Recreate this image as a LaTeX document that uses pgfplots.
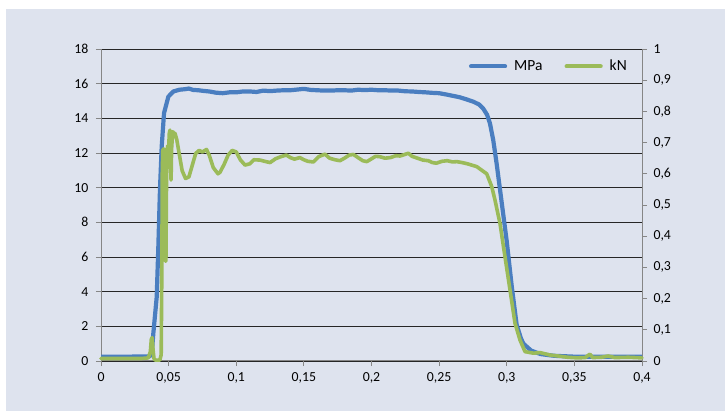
\documentclass[border=0pt]{standalone}
\usepackage{fontspec}
\setmainfont{Carlito}
\usepackage{pgfplots}
\pgfplotsset{compat=1.18}

\definecolor{bgc}{HTML}{DEE3EE}
\definecolor{mpablue}{HTML}{4A7EC0}
\definecolor{kngreen}{HTML}{9BBB59}
\definecolor{axgray}{HTML}{868686}

\newcommand{\xlfont}{\fontsize{13.8bp}{16bp}\selectfont}
\newcommand{\lgfont}{\fontsize{15.5bp}{18bp}\selectfont}

\begin{document}
\begin{tikzpicture}
  \fill[white] (0,0) rectangle (725bp,411bp);
  \fill[bgc] (6bp,0) rectangle (725bp,402bp);

  \pgfplotsset{
    common/.style={
      scale only axis, width=541bp, height=312bp,
      at={(101bp,50bp)}, anchor=south west,
      xmin=0, xmax=0.4, clip=false,
      tick align=outside, major tick length=5bp,
      tick style={axgray, line width=0.8bp},
      axis line style={axgray, line width=1bp},
      tick label style={font=\xlfont},
      /pgf/number format/.cd, use comma, 1000 sep={}, assume math mode=true,
    },
  }

  % left axis: MPa
  \begin{axis}[common,
    axis x line*=bottom, axis y line*=left,
    ymin=0, ymax=18, ytick={0,2,...,18},
    xtick={0,0.05,0.1,0.15,0.2,0.25,0.3,0.35,0.4},
    xticklabels={0,{0,05},{0,1},{0,15},{0,2},{0,25},{0,3},{0,35},{0,4}},
    ymajorgrids, grid style={black!85, line width=0.8bp},
    xticklabel style={yshift=-3bp}, yticklabel style={xshift=-4bp},
  ]
    \addplot[mpablue, line width=4.2bp, line join=round] coordinates {
      (0,0.25) (0.02,0.25) (0.036,0.27) (0.0375,0.4) (0.0387,1.6)
      (0.0412,3.7) (0.0424,6.6) (0.0436,9.9) (0.0449,12.4) (0.0466,14.3)
      (0.0498,15.25) (0.0535,15.55) (0.058,15.65) (0.062,15.68) (0.065,15.72)
      (0.068,15.64) (0.072,15.62) (0.076,15.58) (0.08,15.55) (0.085,15.48)
      (0.09,15.45) (0.095,15.5) (0.1,15.5) (0.105,15.55) (0.11,15.55)
      (0.115,15.52) (0.12,15.6) (0.125,15.57) (0.13,15.6) (0.135,15.62)
      (0.14,15.62) (0.145,15.66) (0.15,15.7) (0.155,15.64) (0.16,15.62)
      (0.165,15.6) (0.17,15.6) (0.175,15.62) (0.18,15.62) (0.185,15.6)
      (0.19,15.65) (0.195,15.63) (0.2,15.65) (0.205,15.62) (0.21,15.62)
      (0.215,15.6) (0.22,15.6) (0.225,15.56) (0.23,15.55) (0.235,15.52)
      (0.24,15.5) (0.245,15.47) (0.25,15.45) (0.255,15.38) (0.26,15.3)
      (0.265,15.22) (0.27,15.1) (0.2753,14.96) (0.2795,14.8) (0.2827,14.55)
      (0.2855,14.2) (0.2876,13.7) (0.29,12.75) (0.2925,11.4) (0.295,9.9)
      (0.2975,8.4) (0.30,6.9) (0.3037,4.3) (0.3073,2.1) (0.3105,1.3)
      (0.3123,1.0) (0.318,0.6) (0.325,0.4) (0.335,0.3) (0.35,0.25)
      (0.37,0.25) (0.4,0.25)
    };
  \end{axis}

  % right axis: kN
  \begin{axis}[common,
    axis x line=none, axis y line*=right,
    ymin=0, ymax=1,
    ytick={0,0.1,0.2,0.3,0.4,0.5,0.6,0.7,0.8,0.9,1},
    yticklabels={0,{0,1},{0,2},{0,3},{0,4},{0,5},{0,6},{0,7},{0,8},{0,9},1},
    yticklabel style={xshift=3bp},
    legend style={at={(1,1)}, anchor=north east, xshift=-13bp, yshift=-9bp,
      draw=none, fill=none, inner sep=0bp, font=\lgfont,
      nodes={inner sep=2bp},
      legend columns=2,
      /tikz/every odd column/.append style={column sep=5bp},
      /tikz/every even column/.append style={column sep=20bp}},
    legend image code/.code={\draw[#1] (0bp,0bp) -- (34bp,0bp);},
    legend cell align=left,
  ]
    \addlegendimage{mpablue, line width=4.2bp, line cap=round}
    \addlegendentry{MPa}
    \addlegendimage{kngreen, line width=4.2bp, line cap=round}
    \addlegendentry{kN}
    \addplot[kngreen, line width=3.6bp, line join=round, line cap=round, forget plot] coordinates {
      (0,0.008) (0.03,0.008) (0.035,0.01) (0.0365,0.03) (0.0372,0.07)
      (0.0378,0.075) (0.0385,0.035) (0.0392,0.008) (0.040,0.003) (0.0435,0.003)
      (0.0445,0.02) (0.045,0.30) (0.0453,0.60) (0.0457,0.675) (0.0463,0.68)
      (0.047,0.67) (0.0473,0.45) (0.0476,0.32) (0.048,0.32) (0.0484,0.55)
      (0.0488,0.67) (0.0493,0.69) (0.0497,0.62) (0.050,0.68) (0.0505,0.73)
      (0.051,0.74) (0.0515,0.66) (0.0518,0.58) (0.0522,0.68) (0.053,0.735)
      (0.054,0.73) (0.0547,0.73) (0.056,0.71) (0.058,0.66) (0.060,0.61)
      (0.0625,0.585) (0.065,0.59) (0.067,0.62) (0.070,0.665) (0.0725,0.675)
      (0.075,0.67) (0.078,0.678) (0.080,0.66) (0.083,0.62) (0.0865,0.60)
      (0.088,0.605) (0.091,0.63) (0.094,0.66) (0.097,0.675) (0.100,0.67)
      (0.103,0.645) (0.1065,0.628) (0.110,0.632) (0.113,0.645) (0.1176,0.644)
      (0.121,0.64) (0.125,0.636) (0.129,0.648) (0.133,0.655) (0.137,0.66)
      (0.140,0.652) (0.143,0.647) (0.147,0.652) (0.150,0.645) (0.153,0.64)
      (0.157,0.638) (0.161,0.655) (0.1656,0.663) (0.169,0.65) (0.173,0.645)
      (0.1767,0.642) (0.180,0.65) (0.1835,0.66) (0.1866,0.662) (0.190,0.652)
      (0.1935,0.642) (0.1965,0.639) (0.200,0.648) (0.203,0.656) (0.206,0.655)
      (0.210,0.65) (0.214,0.652) (0.218,0.658) (0.221,0.657) (0.224,0.661)
      (0.2272,0.666) (0.230,0.656) (0.234,0.65) (0.238,0.644) (0.242,0.642)
      (0.245,0.636) (0.248,0.634) (0.252,0.64) (0.256,0.642) (0.260,0.638)
      (0.263,0.639) (0.267,0.636) (0.271,0.632) (0.2778,0.623) (0.2852,0.60)
      (0.2889,0.559) (0.2913,0.516) (0.295,0.441) (0.2987,0.334) (0.3024,0.228)
      (0.3061,0.121) (0.3098,0.067) (0.3135,0.03) (0.3197,0.025) (0.3246,0.027)
      (0.332,0.019) (0.338,0.016) (0.345,0.012)
      (0.352,0.01) (0.358,0.011) (0.3615,0.022) (0.3635,0.011) (0.37,0.012)
      (0.375,0.016) (0.38,0.011) (0.39,0.012) (0.4,0.01)
    };
  \end{axis}
\end{tikzpicture}
\end{document}
